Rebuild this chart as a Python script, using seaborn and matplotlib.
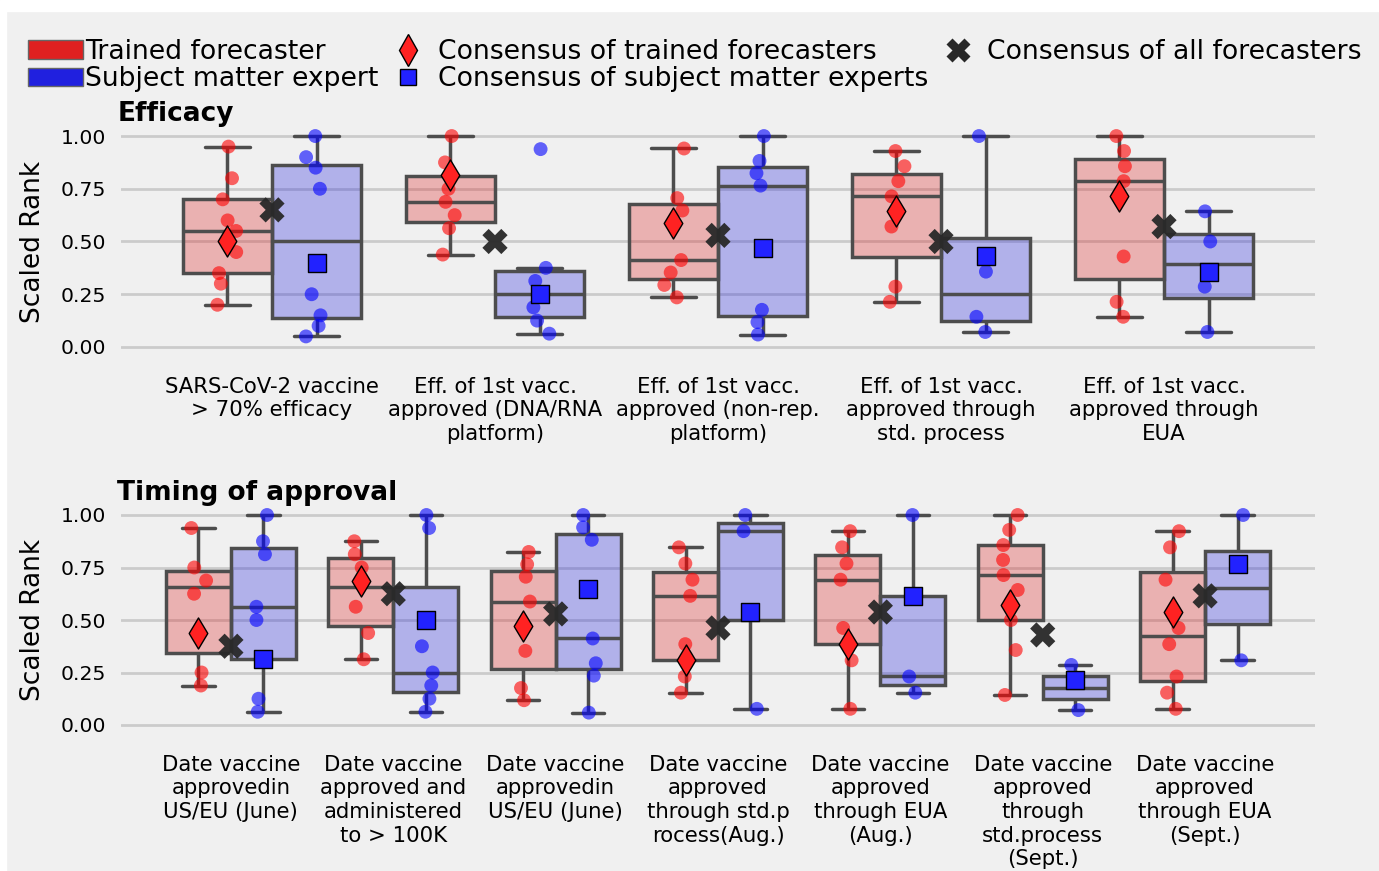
import numpy as np
import pandas as pd
import matplotlib
matplotlib.use("Agg")
import matplotlib.pyplot as plt
import seaborn as sns
from matplotlib.patches import Patch, Rectangle
from matplotlib.lines import Line2D

# ---- Efficacy questions ----
eff_labels = ["SARS-CoV-2 vaccine\n> 70% efficacy",
              "Eff. of 1st vacc.\napproved (DNA/RNA\nplatform)",
              "Eff. of 1st vacc.\napproved (non-rep.\nplatform)",
              "Eff. of 1st vacc.\napproved through\nstd. process",
              "Eff. of 1st vacc.\napproved through\nEUA"]
eff_trained = [[0.95, 0.80, 0.70, 0.60, 0.55, 0.45, 0.35, 0.30, 0.20],
               [1.000, 0.875, 0.750, 0.688, 0.625, 0.563, 0.438],
               [0.941, 0.706, 0.647, 0.412, 0.353, 0.294, 0.235],
               [0.929, 0.857, 0.786, 0.714, 0.571, 0.286, 0.214],
               [1.000, 0.929, 0.857, 0.786, 0.429, 0.214, 0.143]]
eff_sme = [[1.00, 0.90, 0.85, 0.75, 0.25, 0.15, 0.10, 0.05],
           [0.938, 0.375, 0.313, 0.188, 0.125, 0.063],
           [1.000, 0.882, 0.824, 0.765, 0.176, 0.118, 0.059],
           [1.000, 0.357, 0.143, 0.071],
           [0.643, 0.500, 0.286, 0.071]]
eff_cons_trained = [0.50, 0.813, 0.588, 0.643, 0.714]
eff_cons_sme = [0.40, 0.25, 0.471, 0.429, 0.357]
eff_cons_all = [0.65, 0.50, 0.529, 0.50, 0.571]

# ---- Timing of approval questions ----
time_labels = ["Date vaccine\napprovedin\nUS/EU (June)",
               "Date vaccine\napproved and\nadministered\nto > 100K",
               "Date vaccine\napprovedin\nUS/EU (June)",
               "Date vaccine\napproved\nthrough std.p\nrocess(Aug.)",
               "Date vaccine\napproved\nthrough EUA\n(Aug.)",
               "Date vaccine\napproved\nthrough\nstd.process\n(Sept.)",
               "Date vaccine\napproved\nthrough EUA\n(Sept.)"]
time_trained = [[0.938, 0.750, 0.688, 0.625, 0.250, 0.188],
                [0.875, 0.813, 0.750, 0.563, 0.438, 0.313],
                [0.824, 0.765, 0.706, 0.588, 0.353, 0.176, 0.118],
                [0.846, 0.769, 0.692, 0.615, 0.385, 0.231, 0.154],
                [0.923, 0.846, 0.769, 0.692, 0.462, 0.308, 0.077],
                [1.000, 0.929, 0.857, 0.786, 0.714, 0.643, 0.500, 0.357, 0.143],
                [0.923, 0.846, 0.692, 0.462, 0.385, 0.231, 0.154, 0.077]]
time_sme = [[1.000, 0.875, 0.813, 0.563, 0.500, 0.125, 0.063],
            [1.000, 0.938, 0.375, 0.250, 0.188, 0.125, 0.063],
            [1.000, 0.941, 0.882, 0.412, 0.294, 0.235, 0.059],
            [1.000, 0.923, 0.077],
            [1.000, 0.231, 0.154],
            [0.286, 0.071],
            [1.000, 0.308]]
time_cons_trained = [0.438, 0.688, 0.471, 0.308, 0.385, 0.571, 0.538]
time_cons_sme = [0.313, 0.50, 0.647, 0.538, 0.615, 0.214, 0.769]
time_cons_all = [0.375, 0.625, 0.529, 0.462, 0.538, 0.429, 0.615]

groups = ["Trained forecaster", "Subject matter expert"]
box_pal = ["#ff0000", "#0000ff"]


def long_frame(trained, sme):
    rows = []
    for i, (tf, sm) in enumerate(zip(trained, sme)):
        for v in tf:
            rows.append({"q": f"q{i}", "Group": groups[0], "Rank": v})
        for v in sm:
            rows.append({"q": f"q{i}", "Group": groups[1], "Rank": v})
    return pd.DataFrame(rows)


def draw_panel(ax, labels, trained, sme, c_tf, c_sme, c_all, title):
    df = long_frame(trained, sme)
    order = [f"q{i}" for i in range(len(labels))]
    sns.boxplot(data=df, x="q", y="Rank", hue="Group", hue_order=groups, order=order,
                palette=box_pal, saturation=0.75, width=0.8, gap=0, showfliers=False,
                linewidth=2.5, linecolor="#4d4d4d", legend=False, ax=ax, zorder=2)
    for p in ax.patches:
        fc = p.get_facecolor()
        p.set_facecolor((fc[0], fc[1], fc[2], 0.3))
    sns.stripplot(data=df, x="q", y="Rank", hue="Group", hue_order=groups, order=order,
                  palette=box_pal, dodge=True, size=10, alpha=0.6, linewidth=0,
                  legend=False, ax=ax, zorder=3)
    pos = np.arange(len(labels))
    ax.scatter(pos - 0.2, c_tf, marker="d", s=250, c="#ff2222", edgecolors="black",
               linewidths=1, zorder=6)
    ax.scatter(pos + 0.2, c_sme, marker="s", s=150, c="#2222ff", edgecolors="black",
               linewidths=1, zorder=6)
    ax.scatter(pos, c_all, marker="X", s=330, c="#282828", edgecolors="none",
               alpha=0.95, zorder=6)
    ax.set_xlim(-0.677, len(labels) - 1 + 0.677)
    ax.set_ylim(-0.05, 1.05)
    ax.set_yticks([0, 0.25, 0.5, 0.75, 1.0])
    ax.set_yticklabels(["0.00", "0.25", "0.50", "0.75", "1.00"])
    ax.set_xticks(pos)
    ax.set_xticklabels(labels, fontsize=15.3, linespacing=1.22)
    ax.tick_params(axis="y", labelsize=14.7, pad=11, length=0, colors="black")
    ax.tick_params(axis="x", pad=14, length=0, colors="black")
    ax.set_xlabel("")
    ax.set_ylabel("Scaled Rank", fontsize=19, labelpad=10, color="black")
    ax.set_title(title, loc="left", fontsize=19, fontweight="bold", pad=3, x=-0.003,
                 color="black")
    ax.grid(axis="y", color="#cbcbcb", linewidth=2)
    ax.grid(axis="x", visible=False)
    ax.set_axisbelow(True)
    for s in ax.spines.values():
        s.set_visible(False)


sns.set_theme(style="whitegrid")
plt.rcParams["font.family"] = ["DejaVu Sans"]
plt.rcParams["text.color"] = "black"

fig = plt.figure(figsize=(13.79, 8.71), dpi=100, facecolor="#f0f0f0")
fig.patches.append(Rectangle((0, 1 - 11 / 871), 1, 11 / 871, transform=fig.transFigure,
                             color="white", zorder=-5))
fig.patches.append(Rectangle((0, 0), 6 / 1379, 1, transform=fig.transFigure,
                             color="white", zorder=-5))

ax1 = fig.add_axes([121 / 1379, 1 - 357.5 / 871, 1194 / 1379, 232 / 871])
ax2 = fig.add_axes([121 / 1379, 1 - 735.5 / 871, 1194 / 1379, 231 / 871])
for ax in (ax1, ax2):
    ax.set_facecolor("#f0f0f0")

np.random.seed(3)
draw_panel(ax1, eff_labels, eff_trained, eff_sme, eff_cons_trained, eff_cons_sme,
           eff_cons_all, "Efficacy")
draw_panel(ax2, time_labels, time_trained, time_sme, time_cons_trained, time_cons_sme,
           time_cons_all, "Timing of approval")

handles = [Patch(facecolor="#df2020", edgecolor="#666666"),
           Patch(facecolor="#2020df", edgecolor="#666666"),
           Line2D([], [], marker="d", ls="none", markersize=16, markerfacecolor="#ff2222",
                  markeredgecolor="black"),
           Line2D([], [], marker="s", ls="none", markersize=11, markerfacecolor="#2222ff",
                  markeredgecolor="black"),
           Line2D([], [], marker="X", ls="none", markersize=17, markerfacecolor="#282828",
                  markeredgecolor="none")]
names = ["Trained forecaster", "Subject matter expert",
         "Consensus of trained forecasters", "Consensus of subject matter experts",
         "Consensus of all forecasters"]
fig.legend(handles, names, loc="upper left", bbox_to_anchor=(28 / 1379, 1 - 39 / 871),
           ncol=3, frameon=False, fontsize=19.2, handlelength=2.05, handletextpad=0.08,
           columnspacing=0.1, labelspacing=0.05, borderpad=0, borderaxespad=0,
           labelcolor="black")

fig.savefig("out.png", dpi=100, facecolor=fig.get_facecolor())
